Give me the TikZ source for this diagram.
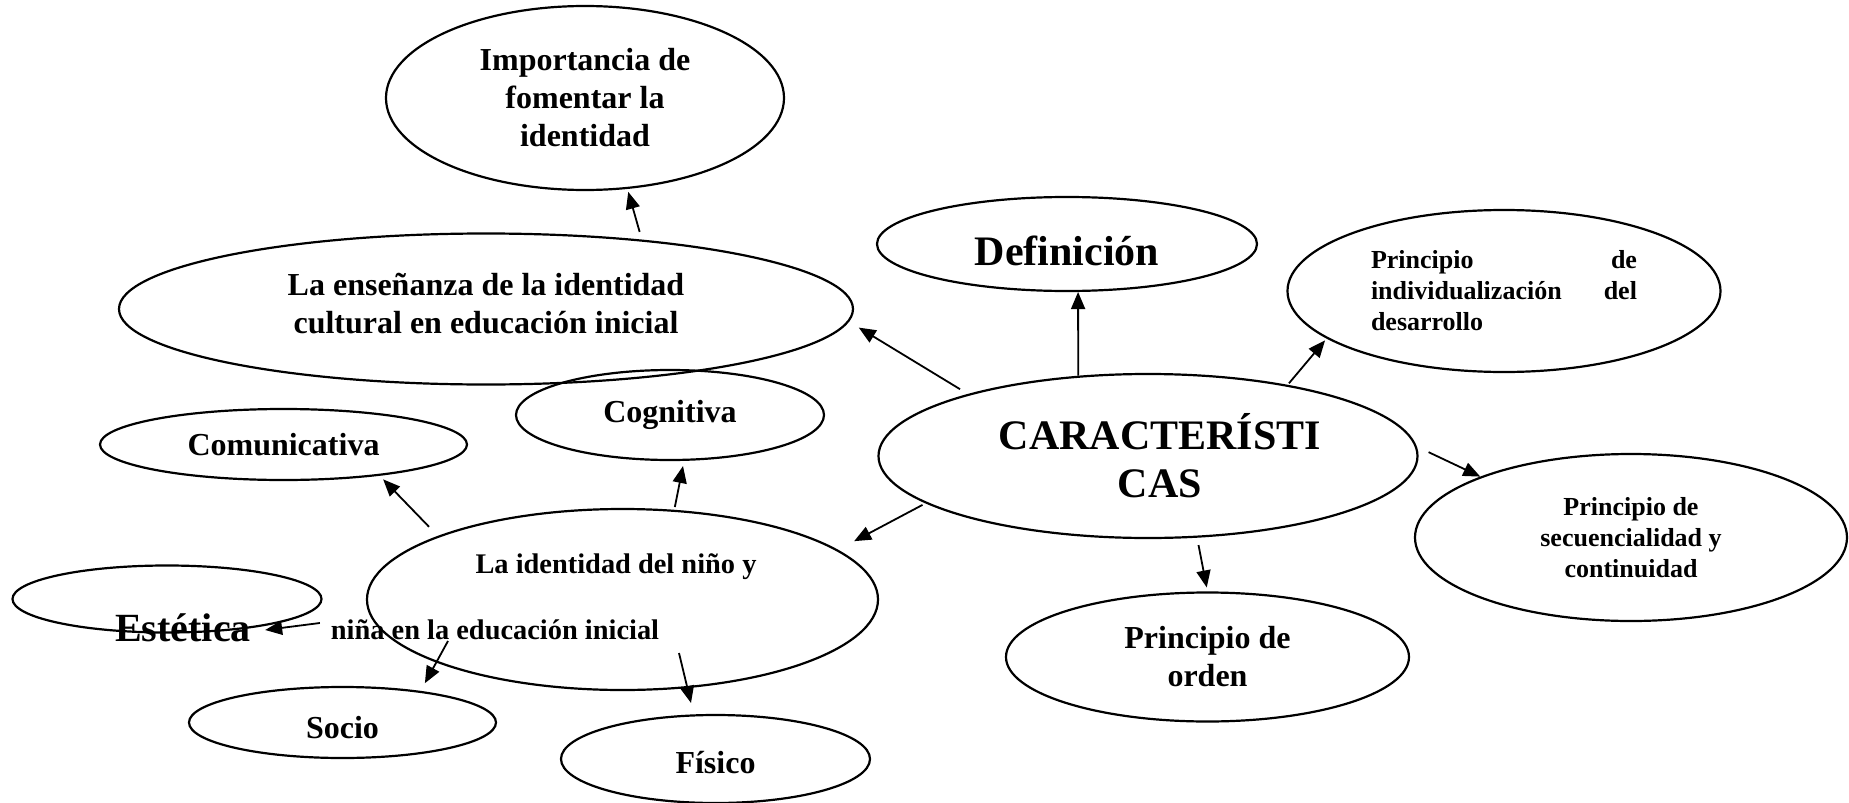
\documentclass[tikz,border=0pt]{standalone}
\usepackage{fontspec}
\setmainfont{Liberation Serif}
\usepackage{tikz}
\usetikzlibrary{shapes.geometric, arrows.meta}

\begin{document}
\begin{tikzpicture}[x = 0.5pt, y = -0.5pt,
	oval/.style = {draw, ellipse, line width = 1.1pt, inner sep = 0pt, align = center},
	txtmid/.style = {font = \bfseries\fontsize{16}{19}\selectfont},
	txtbig/.style = {font = \bfseries\fontsize{21}{24}\selectfont},
	txtsmall/.style = {font = \bfseries\fontsize{13}{15.5}\selectfont},
	lbl/.style = {inner sep = 0pt, font = \bfseries\fontsize{14.2}{17}\selectfont},
	arr/.style = {-{Triangle[length = 8.5pt, width = 7pt]}, line width = 0.9pt}]

\useasboundingbox (0,0) rectangle (1849,803);

\node[oval, txtmid, minimum width = 199pt, minimum height = 92pt] (imp) at (585,98) {Importancia de\\fomentar la\\identidad};
\node[oval, txtbig, minimum width = 190pt, minimum height = 47pt, text height = 21pt, text depth = 0pt] (defi) at (1067,244) {Definición};
\node[oval, txtsmall, minimum width = 216.5pt, minimum height = 81pt, text width = 133pt, align = justify] (indiv) at (1504,291) {Principio\hfill de\\individualización\hfill del\\desarrollo};
\node[oval, txtmid, minimum width = 367pt, minimum height = 75.5pt, text depth = 5.5pt] (ense) at (486,309) {La enseñanza de la identidad\\cultural en educación inicial};
\node[oval, txtmid, minimum width = 154pt, minimum height = 45pt] (cogn) at (670,415) {Cognitiva};
\node[oval, txtmid, minimum width = 183.5pt, minimum height = 35.5pt] (comu) at (283.5,444.5) {Comunicativa};
\node[oval, txtbig, minimum width = 269.5pt, minimum height = 82pt] (caract) at (1148,456) {\hspace*{12pt}CARACTERÍSTI\\\hspace*{12pt}CAS};
\node[oval, txtsmall, minimum width = 216pt, minimum height = 83.5pt] (secu) at (1631,537.5) {Principio de\\secuencialidad y\\continuidad};
\node[oval, minimum width = 255.5pt, minimum height = 90.5pt] (iden) at (622.5,599.5) {};
\node[lbl] (idenA) at (616,567) {La identidad del niño y};
\node[lbl] (idenB) at (495,630) {niña en la educación inicial};
\node[oval, minimum width = 154.5pt, minimum height = 33.5pt] (este) at (167,599) {};
\node[inner sep = 0pt, font = \bfseries\fontsize{20}{24}\selectfont] (estetxt) at (183,628) {Estética};
\node[oval, txtmid, minimum width = 201.5pt, minimum height = 64.5pt] (orden) at (1207.5,657) {Principio de\\orden};
\node[oval, txtmid, minimum width = 153.5pt, minimum height = 35.5pt, text height = 15.5pt, text depth = 0pt] (socio) at (342.5,722.5) {Socio};
\node[oval, txtmid, minimum width = 154.5pt, minimum height = 44pt, text height = 14.5pt, text depth = 0pt] (fisico) at (715.5,759) {Físico};

\foreach \a/\b/\s/\t in {ense.24/imp.-65/4pt/1.5pt, caract.161/ense.-2/4.6pt/5.7pt,
		caract.131.5/defi.-77/0pt/0pt, caract.27/indiv.195/1pt/1.2pt,
		caract.2/secu.158.4/6.5pt/0pt, caract.-59/orden.90.2/3.75pt/2pt,
		caract.192.6/iden.13.4/1.7pt/9.15pt, iden.60/cogn.-73.8/1.4pt/2.6pt,
		iden.161.9/comu.-18.9/6.3pt/2.5pt}
	\draw[arr, shorten <= \s, shorten >= \t] (\a) -- (\b);

\draw[arr, shorten >= 4.4pt] ([shift = {(-174.5,41.5)}]iden.center) -- (socio.22.5);
\draw[arr, shorten >= 5.85pt] ([shift = {(56.5,53.5)}]iden.center) -- (fisico.116.6);
\draw[arr] ([xshift = -5.3pt, yshift = 3.5pt]idenB.west) -- ([xshift = 7pt, yshift = -1pt]estetxt.east);
\end{tikzpicture}
\end{document}
